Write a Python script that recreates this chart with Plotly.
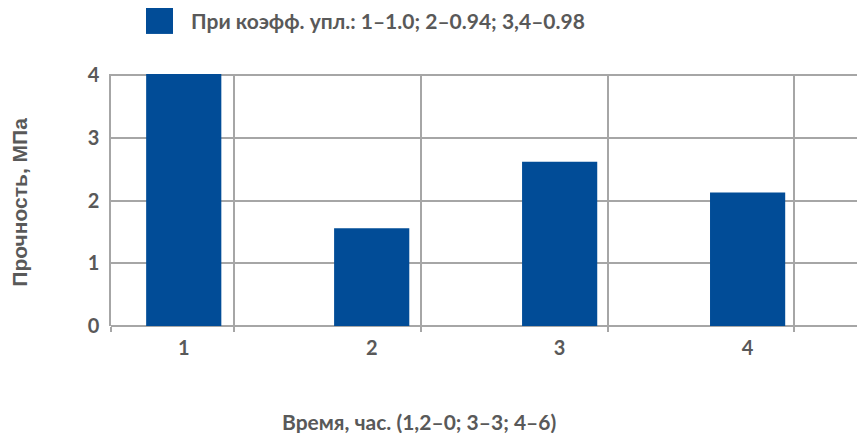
import plotly.graph_objects as go

# Data
categories = [1, 2, 3, 4]
strength_mpa = [4.1, 1.56, 2.62, 2.13]
tick_labels = ["1", "2", "3", "4"]
y_ticks = [0, 1, 2, 3, 4]
# vertical grid positions (between categories)
grid_x = [0.613, 1.265, 2.26, 3.255, 4.245]

legend_text = "При коэфф. упл.: 1–1.0; 2–0.94; 3,4–0.98"
x_title = "Время, час. (1,2–0; 3–3; 4–6)"
y_title = "Прочность, МПа"

BAR = "#014C97"
GRID = "#A6A6A6"
TXT = "#595959"

fig = go.Figure()
fig.add_trace(go.Bar(
    x=categories, y=strength_mpa, width=0.4,
    marker=dict(color=BAR, line=dict(width=0)),
    name=legend_text, showlegend=False,
))

fig.update_layout(
    width=857, height=433,
    margin=dict(l=111, r=0, t=74, b=107),
    paper_bgcolor="white", plot_bgcolor="white",
    xaxis=dict(
        range=[0.613, 4.582],
        tickvals=categories, ticktext=tick_labels,
        showgrid=False, zeroline=False, showline=False, ticks="",
        tickfont=dict(family="Lato", size=20, color=TXT, weight="bold"),
        ticklabelstandoff=8,
        minor=dict(tickvals=grid_x, showgrid=True, gridcolor=GRID, gridwidth=1.5,
                   ticks="outside", ticklen=5, tickcolor=GRID, tickwidth=1.5),
    ),
    yaxis=dict(
        range=[0, 4.02],
        tickvals=y_ticks,
        showgrid=True, gridcolor=GRID, gridwidth=1.5,
        zeroline=True, zerolinecolor=GRID, zerolinewidth=1.5,
        showline=True, linecolor=GRID, linewidth=1.5,
        ticks="",
        tickfont=dict(family="Lato", size=20, color=TXT, weight="bold"),
        ticklabelstandoff=6,
    ),
    shapes=[dict(
        type="rect", xref="paper", yref="paper",
        x0=0.0469, x1=0.0831, y0=1.159, y1=1.262,
        fillcolor=BAR, line=dict(width=0),
    )],
    annotations=[
        dict(text=legend_text, xref="paper", yref="paper", x=0.1046, y=1.2106,
             xanchor="left", yanchor="middle", showarrow=False,
             font=dict(family="Lato", size=21, color=TXT, weight="bold")),
        dict(text=x_title, xref="paper", yref="paper", x=0.4122, y=-0.3786,
             xanchor="center", yanchor="middle", showarrow=False,
             font=dict(family="Lato", size=21, color=TXT, weight="bold")),
        dict(text=y_title, xref="paper", yref="paper", x=-0.122, y=0.4934,
             xanchor="center", yanchor="middle", showarrow=False, textangle=-90,
             font=dict(family="Liberation Sans", size=21, color=TXT, weight="bold")),
    ],
)

fig.write_html("out.html")
